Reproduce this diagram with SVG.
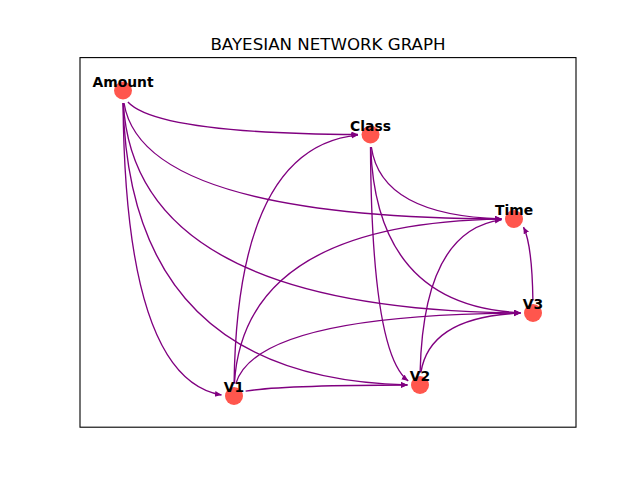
<svg xmlns="http://www.w3.org/2000/svg" width="640" height="480" viewBox="0 0 640 480">
<style>
.edge{fill:none;stroke:#800080;stroke-width:1.35;marker-end:url(#arr)}
.node circle{fill:#ff564d}
.node text{font-family:"DejaVu Sans","Liberation Sans",sans-serif;font-weight:bold;font-size:13.89px;text-anchor:middle;fill:#000}
.title{font-family:"DejaVu Sans","Liberation Sans",sans-serif;font-size:16.67px;text-anchor:middle;fill:#000}
</style>
<defs>
<marker id="arr" markerUnits="userSpaceOnUse" markerWidth="10" markerHeight="10" refX="6.6" refY="2.9" orient="auto">
<path d="M0,0 L6.8,2.9 L0,5.8 z" fill="#800080"/>
</marker>
</defs>
<rect width="640" height="480" fill="#fff"/>
<rect x="80" y="57.6" width="496" height="369.6" fill="none" stroke="#000" stroke-width="1.1"/>
<text class="title" x="328" y="49.5">BAYESIAN NETWORK GRAPH</text>
<g id="edges">
<path class="edge" d="M127.9,102.0 Q156.9,133.5 358.0,134.5"/>
<path class="edge" d="M124.0,103.0 Q142.2,217.1 501.5,219.0"/>
<path class="edge" d="M123.3,103.0 Q134.5,309.7 520.5,313.0"/>
<path class="edge" d="M123.1,103.0 Q129.2,378.9 407.5,384.9"/>
<path class="edge" d="M123.05,103.0 Q125.2,378.7 221.5,395.0"/>
<path class="edge" d="M371.35,147.0 Q381.0,215.5 501.5,218.8"/>
<path class="edge" d="M370.7,147.0 Q376.1,306.3 520.5,312.7"/>
<path class="edge" d="M370.5,147.0 Q371.6,353.9 408.2,380.9"/>
<path class="edge" d="M234.1,383.5 Q237.2,146.5 358.0,135.1"/>
<path class="edge" d="M234.4,383.5 Q243.8,222.9 501.5,219.1"/>
<path class="edge" d="M235.8,383.6 Q256.7,314.6 520.5,313.0"/>
<path class="edge" d="M245.6,391.2 Q278.8,385.3 407.5,385.0"/>
<path class="edge" d="M420.1,372.5 Q423.4,230.0 501.5,219.8"/>
<path class="edge" d="M420.9,372.5 Q429.7,316.7 520.5,313.2"/>
<path class="edge" d="M532.9,300.5 Q532.1,244.7 523.5,227.1"/>
</g>
<g id="node-Amount" class="node"><circle cx="123" cy="90.5" r="9"/><text x="123" y="87">Amount</text></g>
<g id="node-Class" class="node"><circle cx="370.5" cy="134.5" r="9"/><text x="370.5" y="131">Class</text></g>
<g id="node-Time" class="node"><circle cx="514" cy="219" r="9"/><text x="514" y="214.8">Time</text></g>
<g id="node-V3" class="node"><circle cx="533" cy="313" r="9"/><text x="533" y="309.3">V3</text></g>
<g id="node-V2" class="node"><circle cx="420" cy="385" r="9"/><text x="420" y="380.8">V2</text></g>
<g id="node-V1" class="node"><circle cx="234" cy="396" r="9"/><text x="234" y="392">V1</text></g>
</svg>
